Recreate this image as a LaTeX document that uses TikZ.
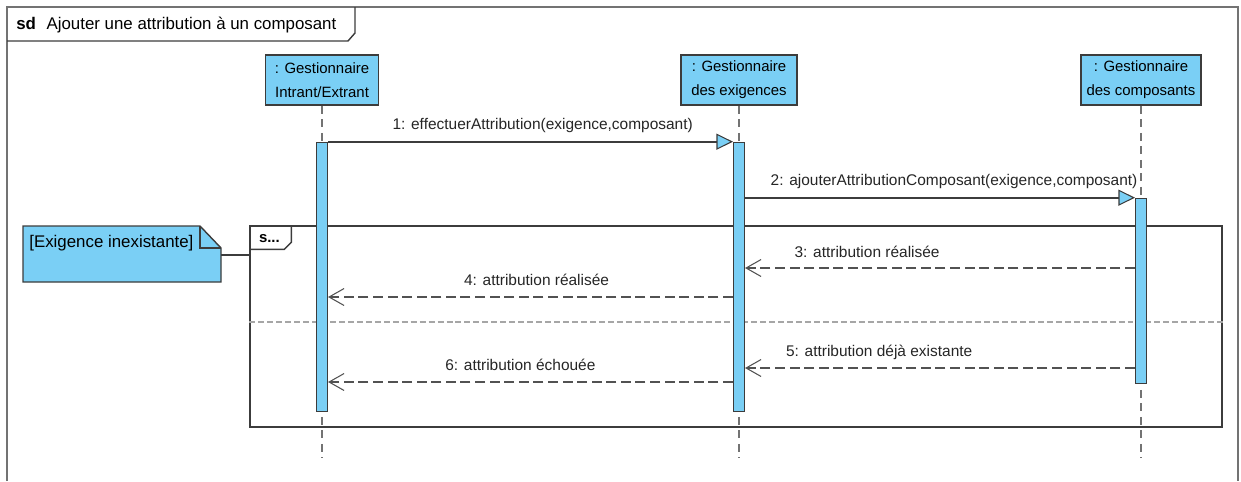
\documentclass[tikz,border=0pt]{standalone}
\usepackage{fontspec}
\setsansfont{Liberation Sans}
\usetikzlibrary{arrows.meta,positioning,calc}
\definecolor{vpblue}{RGB}{122,207,245}
\definecolor{vpline}{RGB}{60,60,60}

\begin{document}
\begin{tikzpicture}[
  x=0.02cm, y=-0.02cm,
  font=\sffamily\fontsize{8.8}{11}\selectfont,
  head/.style={draw=vpline, fill=vpblue, line width=0.8pt, minimum height=1.0cm,
               align=center, inner sep=2pt,
               font=\sffamily\fontsize{8.5}{13.6}\selectfont},
  bar/.style={draw=vpline, fill=vpblue, line width=0.6pt, minimum width=0.22cm,
              inner sep=0pt},
  life/.style={draw=black!55, line width=0.7pt, dash pattern=on 4.5pt off 3.2pt},
  call/.style={draw=vpline, line width=1pt,
               -{Triangle[length=0.33cm, width=0.32cm, fill=vpblue, line width=0.6pt]}},
  reply/.style={draw=black!68, line width=1.1pt, dash pattern=on 5.7pt off 2.6pt,
                -{Straight Barb[length=0.3cm, width=0.34cm, line width=0.6pt]}},
  lbl/.style={yshift=9pt, inner sep=0pt, text=black!85},
  frag/.style={draw=vpline, line width=0.8pt, inner sep=0pt},
  notebox/.style={draw=vpline, fill=vpblue, line width=0.8pt}
]
\useasboundingbox (0,0) rectangle (1241,481);
\draw[black!55, line width=0.8pt] (7,481) |- (1238,7) -- (1238,481);
\draw[vpline, line width=0.8pt] (7,41) -- (348,41) -- (355,33) -- (355,7);
\node[anchor=west, inner sep=0pt, font=\sffamily\fontsize{9.6}{11}\selectfont] (title)
  at (16,25) {\textbf{sd}\hspace{6pt}Ajouter une attribution à un composant};

\node[head, minimum width=2.26cm] (gie) at (322,80) {: Gestionnaire\\Intrant/Extrant};
\node[head, minimum width=2.32cm] (gex) at (739,80) {: Gestionnaire\\des exigences};
\node[head, minimum width=2.40cm] (gco) at (1141,80) {: Gestionnaire\\des composants};

\coordinate (ybot) at (0,458);
\coordinate (ydiv) at (0,322);
\coordinate (y3) at (0,268);
\coordinate (y4) at (0,297);
\coordinate (y5) at (0,368);
\coordinate (y6) at (0,382);

\node[frag, minimum width=19.44cm, minimum height=4.02cm] (alt) at (736,326.5) {};
\draw[frag] ($(alt.north west)+(0,24)$) -- ++(35,0) -- ++(7,-7)
  -- ($(alt.north west)+(42,0)$);
\node[font=\sffamily\bfseries\fontsize{8.5}{10}\selectfont, inner sep=0pt] (op)
  at ($(alt.north west)+(20,13)$) {s...};
\draw[draw=black!35, line width=1pt, dash pattern=on 3.4pt off 1.7pt]
  (alt.west |- ydiv) -- (alt.east |- ydiv);

\draw[life] (gie.south) -- (gie |- ybot);
\draw[life] (gex.south) -- (gex |- ybot);
\draw[life] (gco.south) -- (gco |- ybot);

\node[bar, anchor=north, minimum height=5.38cm, below=0.72cm of gie] (b1) {};
\node[bar, anchor=north, minimum height=5.38cm, below=0.72cm of gex] (b2) {};
\node[bar, anchor=north, minimum height=3.70cm, below=1.84cm of gco] (b3) {};

\draw[call] (b1.north east) -- (b1.north east -| b2.west)
  node[lbl, pos=0.53] {1: effectuerAttribution(exigence,composant)};
\draw[call] (b2.east |- b3.north) -- (b3.north west)
  node[lbl, pos=0.536] {2: ajouterAttributionComposant(exigence,composant)};
\draw[reply] (b3.west |- y3) -- (b2.east |- y3)
  node[lbl, pos=0.687] {3: attribution réalisée};
\draw[reply] (b2.west |- y4) -- (b1.east |- y4)
  node[lbl, pos=0.485, yshift=1pt] {4: attribution réalisée};
\draw[reply] (b3.west |- y5) -- (b2.east |- y5)
  node[lbl, pos=0.656] {5: attribution déjà existante};
\draw[reply] (b2.west |- y6) -- (b1.east |- y6)
  node[lbl, pos=0.525, yshift=1pt] {6: attribution échouée};

\draw[notebox] (23,226) -- (200,226) -- (221,248) -- (221,282) -- (23,282) -- cycle;
\draw[vpline, line width=0.8pt] (200,226) |- (221,248);
\node[anchor=west, inner sep=0pt, font=\sffamily\fontsize{9.6}{11}\selectfont] (cond)
  at (29,243) {[Exigence inexistante]};
\coordinate (noteR) at (221,255);
\draw[vpline, line width=0.8pt] (noteR) -- (alt.west |- noteR);
\end{tikzpicture}
\end{document}
